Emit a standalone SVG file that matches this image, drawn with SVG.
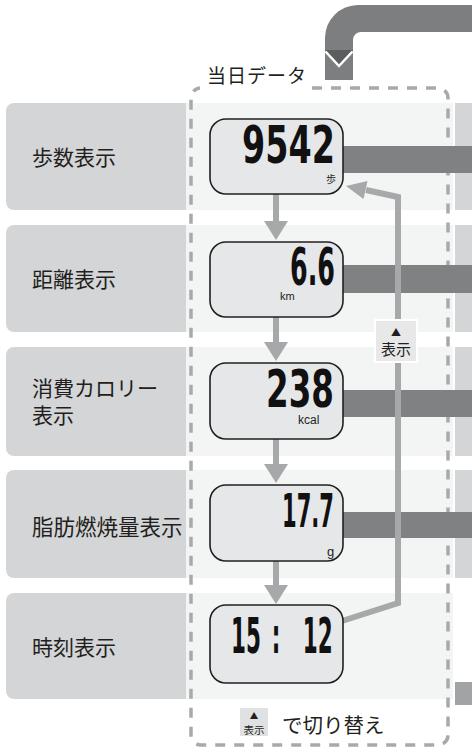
<svg xmlns="http://www.w3.org/2000/svg" width="472" height="756" viewBox="0 0 472 756">
<style>
.lbl{fill:#d4d5d7}
.row{fill:#f3f4f4}
.strip{fill:#d4d5d7}
.jp{font-family:"Noto Sans CJK JP","Noto Sans",sans-serif;fill:#231f20}
.disp{fill:#e6e7e8;stroke:#231f20;stroke-width:1.6}
.dig{font-family:"DejaVu Sans",sans-serif;font-weight:bold;fill:#111}
.unit{font-family:"Liberation Sans",Arial,sans-serif;fill:#231f20}
.bar{fill:#808183}
.arr{fill:#a7a8aa}
.line{fill:none;stroke:#a7a8aa;stroke-width:6;stroke-linejoin:miter}
.dash{fill:none;stroke:#a8a9ab;stroke-width:3.5;stroke-dasharray:10 9}
</style>
<rect width="472" height="756" fill="#fff"/>

<!-- row backgrounds -->
<g id="rows">
<rect class="row" x="186" y="103" width="267" height="107"/>
<rect class="row" x="186" y="225" width="267" height="107"/>
<rect class="row" x="186" y="347" width="267" height="109"/>
<rect class="row" x="186" y="470" width="267" height="108"/>
<rect class="row" x="186" y="593" width="267" height="106"/>
<rect class="strip" x="455" y="103" width="17" height="107"/>
<rect class="strip" x="455" y="225" width="17" height="107"/>
<rect class="strip" x="455" y="347" width="17" height="109"/>
<rect class="strip" x="455" y="470" width="17" height="108"/>
<rect x="455" y="682" width="17" height="23" fill="#a2a3a5"/>
</g>

<!-- left labels -->
<g id="label-steps">
<path class="lbl" d="M186,103 H14 A8,8 0 0 0 6,111 V202 A8,8 0 0 0 14,210 H186 Z"/>
<text class="jp" x="32" y="165" font-size="21">歩数表示</text>
</g>
<g id="label-distance">
<path class="lbl" d="M186,225 H14 A8,8 0 0 0 6,233 V324 A8,8 0 0 0 14,332 H186 Z"/>
<text class="jp" x="32" y="287" font-size="21">距離表示</text>
</g>
<g id="label-calorie">
<path class="lbl" d="M186,347 H14 A8,8 0 0 0 6,355 V448 A8,8 0 0 0 14,456 H186 Z"/>
<text class="jp" font-size="21"><tspan x="32" y="396">消費カロリー</tspan><tspan x="32" y="423">表示</tspan></text>
</g>
<g id="label-fat">
<path class="lbl" d="M186,470 H14 A8,8 0 0 0 6,478 V570 A8,8 0 0 0 14,578 H186 Z"/>
<text class="jp" x="32" y="535" font-size="21.5">脂肪燃焼量表示</text>
</g>
<g id="label-time">
<path class="lbl" d="M186,593 H14 A8,8 0 0 0 6,601 V691 A8,8 0 0 0 14,699 H186 Z"/>
<text class="jp" x="32" y="655" font-size="21">時刻表示</text>
</g>

<!-- top arrow -->
<g id="top-arrow">
<path d="M472,5 H358 A33,33 0 0 0 325,38 V80 H353 V40 A8,8 0 0 1 361,32 H472 Z" fill="#7d7e80"/>
<polygon points="325,50 353,50 339,66" fill="#5c5d5f"/>
<polyline points="325.5,51.5 339,66 352.5,51.5" fill="none" stroke="#fff" stroke-width="2.5"/>
</g>

<!-- dashed group frame -->
<g id="today-group">
<path class="dash" d="M312,88 H438 A10,10 0 0 1 448,98 V735 A10,10 0 0 1 438,745 H201 A10,10 0 0 1 191,735 V98 A10,10 0 0 1 200,88"/>
<text class="jp" x="207" y="83" font-size="19" letter-spacing="1">当日データ</text>
</g>

<!-- bars and arrows -->
<g id="connectors">
<rect class="bar" x="343" y="146" width="129" height="27"/>
<rect class="bar" x="343" y="265" width="129" height="28"/>
<rect class="bar" x="343" y="390" width="129" height="27"/>
<rect class="bar" x="343" y="512" width="129" height="26"/>
<rect class="arr" x="273" y="194" width="6" height="28"/>
<polygon class="arr" points="264,221 288,221 276,240"/>
<rect class="arr" x="273" y="317" width="6" height="26"/>
<polygon class="arr" points="264,342 288,342 276,361"/>
<rect class="arr" x="273" y="439" width="6" height="26"/>
<polygon class="arr" points="264,464 288,464 276,483"/>
<rect class="arr" x="273" y="561" width="6" height="25"/>
<polygon class="arr" points="264,585 288,585 276,604"/>
<path class="line" d="M342,621 L398,603 V197 L366,190"/>
<polygon class="arr" points="346,186 367.5,181 363.5,199"/>
<rect x="375" y="320" width="42" height="42" fill="#e8e8e9" stroke="#fff" stroke-width="2"/>
<text class="jp" text-anchor="middle"><tspan x="396" y="336" font-size="10">▲</tspan><tspan x="396" y="355" font-size="15">表示</tspan></text>
</g>

<!-- displays -->
<g id="display-steps">
<rect class="disp" x="210" y="119" width="133" height="75" rx="16"/>
<text class="dig" font-size="52" transform="translate(242,163) scale(0.642,1)">9542</text>
<text class="jp" x="326" y="183" font-size="10">歩</text>
</g>
<g id="display-distance">
<rect class="disp" x="210" y="242" width="133" height="75" rx="16"/>
<text class="dig" font-size="51" transform="translate(290,285) scale(0.498,1)">6.6</text>
<text class="unit" x="280" y="300" font-size="11">km</text>
</g>
<g id="display-calorie">
<rect class="disp" x="210" y="363" width="133" height="76" rx="16"/>
<text class="dig" font-size="52" transform="translate(266,407) scale(0.626,1)">238</text>
<text class="unit" x="298" y="424" font-size="12">kcal</text>
</g>
<g id="display-fat">
<rect class="disp" x="210" y="485" width="133" height="76" rx="16"/>
<text class="dig" font-size="47" transform="translate(282,527) scale(0.448,1)">17.7</text>
<text class="unit" x="327" y="556" font-size="13">g</text>
</g>
<g id="display-time">
<rect class="disp" x="210" y="605" width="133" height="78" rx="16"/>
<text class="dig" font-size="50" transform="translate(231,653) scale(0.43,1)"><tspan x="0">15</tspan><tspan x="95">:</tspan><tspan x="167">12</tspan></text>
</g>

<!-- legend -->
<g id="legend">
<rect x="240" y="708" width="28" height="28" fill="#e0e1e2"/>
<text class="jp" text-anchor="middle"><tspan x="254" y="719" font-size="8.5">▲</tspan><tspan x="254" y="734" font-size="10.5">表示</tspan></text>
<text class="jp" x="282" y="733" font-size="20.5">で切り替え</text>
</g>
</svg>
